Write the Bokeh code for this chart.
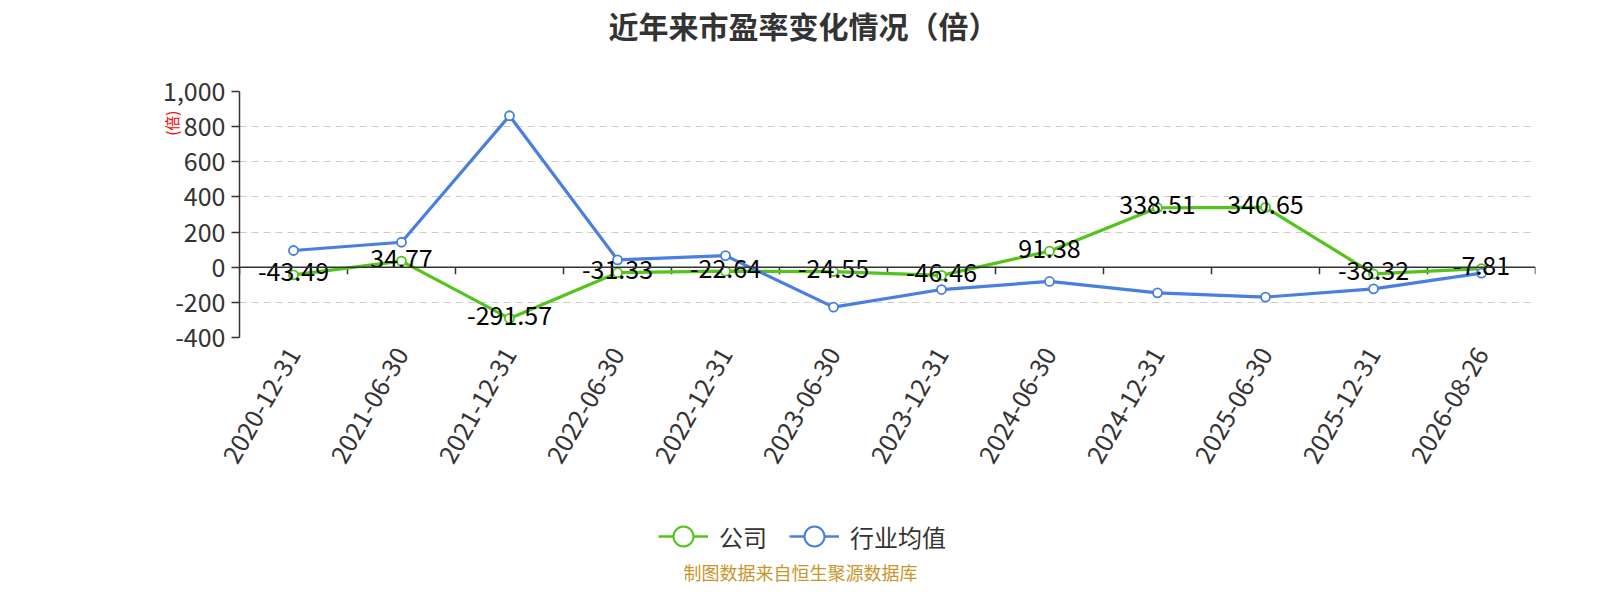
import math
from bokeh.plotting import figure
from bokeh.layouts import column
from bokeh.models import (Range1d, FixedTicker, NumeralTickFormatter, Span, Label,
                          Legend, LegendItem, ColumnDataSource, LinearAxis)
from bokeh.core.properties import value
from bokeh.embed import file_html
from bokeh.resources import INLINE

# ---- data ----
categories = ["2020-12-31", "2021-06-30", "2021-12-31", "2022-06-30", "2022-12-31", "2023-06-30",
              "2023-12-31", "2024-06-30", "2024-12-31", "2025-06-30", "2025-12-31", "2026-08-26"]
company = [-43.49, 34.77, -291.57, -31.33, -22.64, -24.55, -46.46, 91.38, 338.51, 340.65, -38.32, -7.81]
industry = [95, 142, 862, 42, 66, -227, -127, -81, -146, -170, -123, -34]
y_ticks = [-400, -200, 0, 200, 400, 600, 800, 1000]
title_text = "近年来市盈率变化情况（倍）"
series_names = ["公司", "行业均值"]
footer_text = "制图数据来自恒生聚源数据库"
unit_text = "(倍)"

FONT = "Noto Sans CJK SC"
GREEN = "#52C41A"
BLUE = "#4A7EE0"
W = 1584
FRAME_LEFT = 239  # frames of the stacked figures are aligned to this edge

n = len(categories)
xs = [i + 0.5 for i in range(n)]
Y0, Y1 = -400, 1000


def blank_fig(h):
    f = figure(width=W, height=h, output_backend="svg", toolbar_location=None,
               x_axis_location=None, y_axis_location=None, min_border=0, title=None,
               x_range=Range1d(0, 1), y_range=Range1d(0, 1))
    f.outline_line_color = None
    f.xgrid.grid_line_color = None
    f.ygrid.grid_line_color = None
    return f


# ---------------- title strip ----------------
TOP_H = 60
top = blank_fig(TOP_H)
top.add_layout(Label(x=803 - FRAME_LEFT, y=TOP_H - 24, x_units="screen", y_units="screen",
                     text=title_text, text_align="center", text_baseline="middle",
                     text_font=FONT, text_font_size="30px", text_font_style="bold",
                     text_color="#333333"))

# ---------------- chart ----------------
FRAME_H = 246
B_TOP, B_BOT = 31, 138
p = figure(width=W, height=B_TOP + FRAME_H + B_BOT, output_backend="svg", toolbar_location=None,
           x_range=Range1d(0, n), y_range=Range1d(Y0, Y1), title=None,
           min_border_left=FRAME_LEFT, min_border_right=49, min_border_top=B_TOP,
           min_border_bottom=B_BOT)
p.outline_line_color = None

yax = p.yaxis[0]
yax.ticker = FixedTicker(ticks=y_ticks)
yax.formatter = NumeralTickFormatter(format="0,0")
yax.axis_line_color = "#333333"
yax.axis_line_width = 1.5
yax.major_tick_line_color = "#333333"
yax.major_tick_line_width = 1.5
yax.major_tick_out = 8
yax.major_tick_in = 0
yax.minor_tick_line_color = None
yax.major_label_text_font = FONT
yax.major_label_text_font_size = "25px"
yax.major_label_text_color = "#333333"
yax.major_label_standoff = 6

# small red unit text beside the axis
uax = LinearAxis(ticker=FixedTicker(ticks=[820]),
                 major_label_overrides={820: unit_text}, axis_line_color=None,
                 major_tick_line_color=None, minor_tick_line_color=None,
                 major_tick_out=0, major_tick_in=0,
                 major_label_orientation="vertical", major_label_standoff=-22,
                 major_label_text_font=FONT, major_label_text_font_size="15px",
                 major_label_text_color="#ff0000")
p.add_layout(uax, "left")

xax = p.xaxis[0]
xax.ticker = FixedTicker(ticks=xs)
xax.major_label_overrides = {x: c for x, c in zip(xs, categories)}
xax.axis_line_color = None
xax.major_tick_line_color = None
xax.minor_tick_line_color = None
xax.major_label_orientation = math.pi / 3
xax.major_label_text_font = FONT
xax.major_label_text_font_size = "25px"
xax.major_label_text_color = "#333333"
xax.major_label_standoff = 6

p.xgrid.grid_line_color = None
p.ygrid.ticker = FixedTicker(ticks=y_ticks)
p.ygrid.grid_line_color = "#cccccc"
p.ygrid.grid_line_dash = "7 5"
p.ygrid.grid_line_width = 1.2

# zero axis line with ticks at category boundaries
p.add_layout(Span(location=0, dimension="width", line_color="#333333", line_width=1.5))
tick_len = 7 * (Y1 - Y0) / FRAME_H
bounds = list(range(n + 1))
p.segment(x0=bounds, y0=[0] * len(bounds), x1=bounds, y1=[-tick_len] * len(bounds),
          line_color="#333333", line_width=1.5)

src = ColumnDataSource(dict(x=xs, company=company, industry=industry,
                            lbl=[f"{v:.2f}" for v in company]))
p.line("x", "company", source=src, line_color=GREEN, line_width=3.2)
p.line("x", "industry", source=src, line_color=BLUE, line_width=3.2)
p.scatter("x", "company", source=src, size=9, fill_color="white", line_color=GREEN, line_width=1.8)
p.scatter("x", "industry", source=src, size=9, fill_color="white", line_color=BLUE, line_width=1.8)
p.text("x", "company", text="lbl", source=src, text_align="center", text_baseline="middle",
       y_offset=-3, text_font=value(FONT), text_font_size="25px", text_color="#000000")

# ---------------- legend + footer strip ----------------
BOT_H = 584 - TOP_H - (B_TOP + FRAME_H + B_BOT)
bot = blank_fig(BOT_H)
items = []
for name, col in zip(series_names, [GREEN, BLUE]):
    # legend-only renderers placed outside the visible range
    r1 = bot.line(x=[-5, -4], y=[-5, -5], line_color=col, line_width=2.5)
    r2 = bot.scatter(x=[-5], y=[-5], size=20, fill_color="white", line_color=col, line_width=2)
    items.append(LegendItem(label=name, renderers=[r1, r2]))
legend = Legend(items=items, orientation="horizontal",
                location=(658 - FRAME_LEFT, BOT_H - 61 - 26),
                glyph_width=50, glyph_height=52, label_standoff=11, spacing=22,
                padding=0, margin=0, border_line_color=None, background_fill_alpha=0,
                label_text_font=FONT, label_text_font_size="24px", label_text_color="#333333",
                label_text_baseline="middle")
bot.add_layout(legend, "center")
bot.add_layout(Label(x=800 - FRAME_LEFT, y=13, x_units="screen", y_units="screen",
                     text=footer_text, text_align="center", text_baseline="middle",
                     text_font=FONT, text_font_size="18px", text_color="#C9952B"))

layout = column(top, p, bot, spacing=0)
open("out.html", "w").write(file_html(layout, INLINE))
